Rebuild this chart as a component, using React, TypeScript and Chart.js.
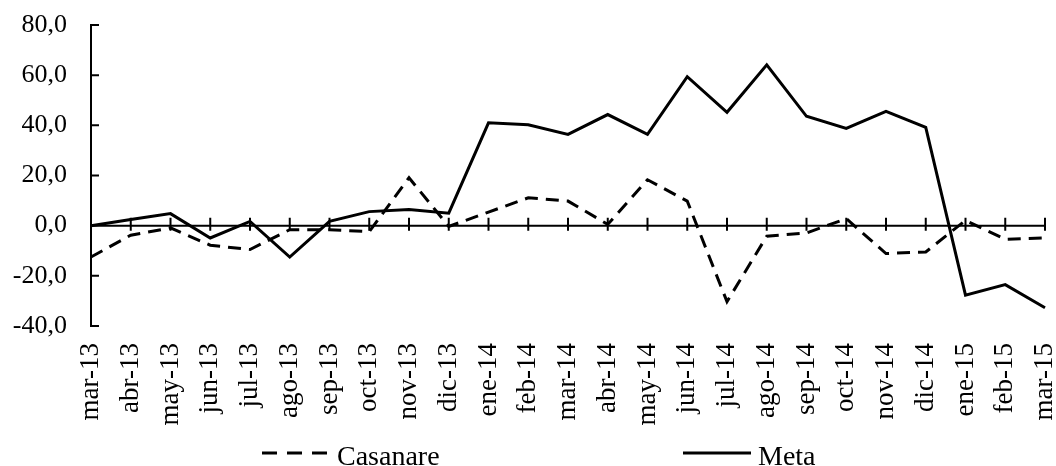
import React, { useEffect, useRef } from "react";
import { Chart, registerables } from "chart.js";

Chart.register(...registerables);

const categories = [
  "mar-13", "abr-13", "may-13", "jun-13", "jul-13", "ago-13", "sep-13", "oct-13", "nov-13", "dic-13",
  "ene-14", "feb-14", "mar-14", "abr-14", "may-14", "jun-14", "jul-14", "ago-14", "sep-14", "oct-14",
  "nov-14", "dic-14", "ene-15", "feb-15", "mar-15",
];

const casanareValues = [
  -12.5, -3.8, -0.9, -7.8, -9.5, -1.6, -1.6, -2.4, 19.1, -0.3,
  5.4, 11.1, 9.8, 0.5, 18.3, 9.8, -30.3, -4.2, -2.9, 2.8,
  -11.1, -10.5, 2.1, -5.4, -4.9,
];

const metaValues = [
  0.0, 2.5, 4.8, -4.9, 1.7, -12.5, 1.7, 5.6, 6.4, 5.0,
  41.0, 40.2, 36.4, 44.3, 36.4, 59.4, 45.2, 64.1, 43.6, 38.8,
  45.6, 39.2, -27.7, -23.5, -32.7,
];

const seriesNames = ["Casanare", "Meta"];
const yMin = -40;
const yMax = 80;
const yStep = 20;

const FONT = '"Liberation Serif", "Times New Roman", serif';

const axisMarksPlugin = {
  id: "axisMarks",
  beforeDatasetsDraw(chart: any) {
    const { ctx, chartArea, scales } = chart;
    const xs = scales.x;
    const ys = scales.y;
    const y0 = ys.getPixelForValue(0);
    ctx.save();
    ctx.strokeStyle = "#000";
    ctx.lineWidth = 2;
    ctx.beginPath();
    ctx.moveTo(chartArea.left, y0);
    ctx.lineTo(chartArea.right, y0);
    for (let i = 0; i < categories.length; i++) {
      const px = xs.getPixelForValue(i);
      ctx.moveTo(px, y0 - 8);
      ctx.lineTo(px, y0 + 5);
    }
    ys.ticks.forEach((t: any) => {
      const py = ys.getPixelForValue(t.value);
      ctx.moveTo(chartArea.left, py);
      ctx.lineTo(chartArea.left + 8, py);
    });
    ctx.stroke();
    ctx.restore();
  },
};

const customLegendPlugin = {
  id: "customLegend",
  afterDraw(chart: any, _args: any, opts: any) {
    const { ctx } = chart;
    ctx.save();
    ctx.font = `${opts.fontSize}px ${FONT}`;
    ctx.textBaseline = "alphabetic";
    ctx.textAlign = "left";
    chart.data.datasets.forEach((ds: any, i: number) => {
      const x0 = opts.starts[i];
      ctx.strokeStyle = ds.borderColor;
      ctx.lineWidth = ds.borderWidth;
      ctx.setLineDash(ds.borderDash && ds.borderDash.length ? opts.dash : []);
      ctx.beginPath();
      ctx.moveTo(x0, opts.lineY);
      ctx.lineTo(x0 + opts.sampleWidth, opts.lineY);
      ctx.stroke();
      ctx.setLineDash([]);
      ctx.fillStyle = "#000";
      ctx.fillText(ds.label, x0 + opts.sampleWidth + opts.gap, opts.baseline);
    });
    ctx.restore();
  },
};

export default function App() {
  const canvasRef = useRef<HTMLCanvasElement | null>(null);

  useEffect(() => {
    if (!canvasRef.current) return;
    const chart = new Chart(canvasRef.current, {
      type: "line",
      data: {
        labels: categories,
        datasets: [
          {
            label: seriesNames[0],
            data: casanareValues,
            borderColor: "#000",
            backgroundColor: "#000",
            borderWidth: 3,
            borderDash: [13, 8],
            pointRadius: 0,
            tension: 0,
            fill: false,
          },
          {
            label: seriesNames[1],
            data: metaValues,
            borderColor: "#000",
            backgroundColor: "#000",
            borderWidth: 3,
            pointRadius: 0,
            tension: 0,
            fill: false,
          },
        ],
      },
      options: {
        animation: false,
        responsive: true,
        maintainAspectRatio: false,
        layout: { padding: { top: 25, right: 11, left: 0, bottom: 0 } },
        plugins: {
          legend: { display: false },
          tooltip: { enabled: false },
          customLegend: {
            starts: [262, 683],
            sampleWidth: 68,
            gap: 7,
            lineY: 453,
            baseline: 465,
            fontSize: 28,
            dash: [15, 10],
          },
        } as any,
        scales: {
          x: {
            type: "category",
            offset: false,
            grid: { display: false, drawTicks: false },
            border: { display: false },
            ticks: {
              autoSkip: false,
              minRotation: 90,
              maxRotation: 90,
              padding: 17,
              color: "#000",
              font: { family: FONT, size: 27 },
            },
            afterFit(scale: any) {
              scale.paddingLeft = 0;
              scale.paddingRight = 0;
              scale.paddingTop = 0;
              scale.paddingBottom = 0;
              scale.height = 140;
            },
          },
          y: {
            min: yMin,
            max: yMax,
            grid: { display: false, drawTicks: false },
            border: { display: true, color: "#000", width: 2 },
            ticks: {
              stepSize: yStep,
              padding: 24,
              color: "#000",
              font: { family: FONT, size: 26 },
              callback: (v: any) => Number(v).toFixed(1).replace(".", ","),
            },
            afterFit(scale: any) {
              scale.paddingTop = 0;
              scale.paddingBottom = 0;
              scale.width = 91;
            },
          },
        },
      },
      plugins: [axisMarksPlugin, customLegendPlugin],
    });
    return () => chart.destroy();
  }, []);

  return (
    <div style={{ position: "fixed", left: 0, top: 0, width: 1056, height: 466, background: "#fff" }}>
      <canvas ref={canvasRef} />
    </div>
  );
}
